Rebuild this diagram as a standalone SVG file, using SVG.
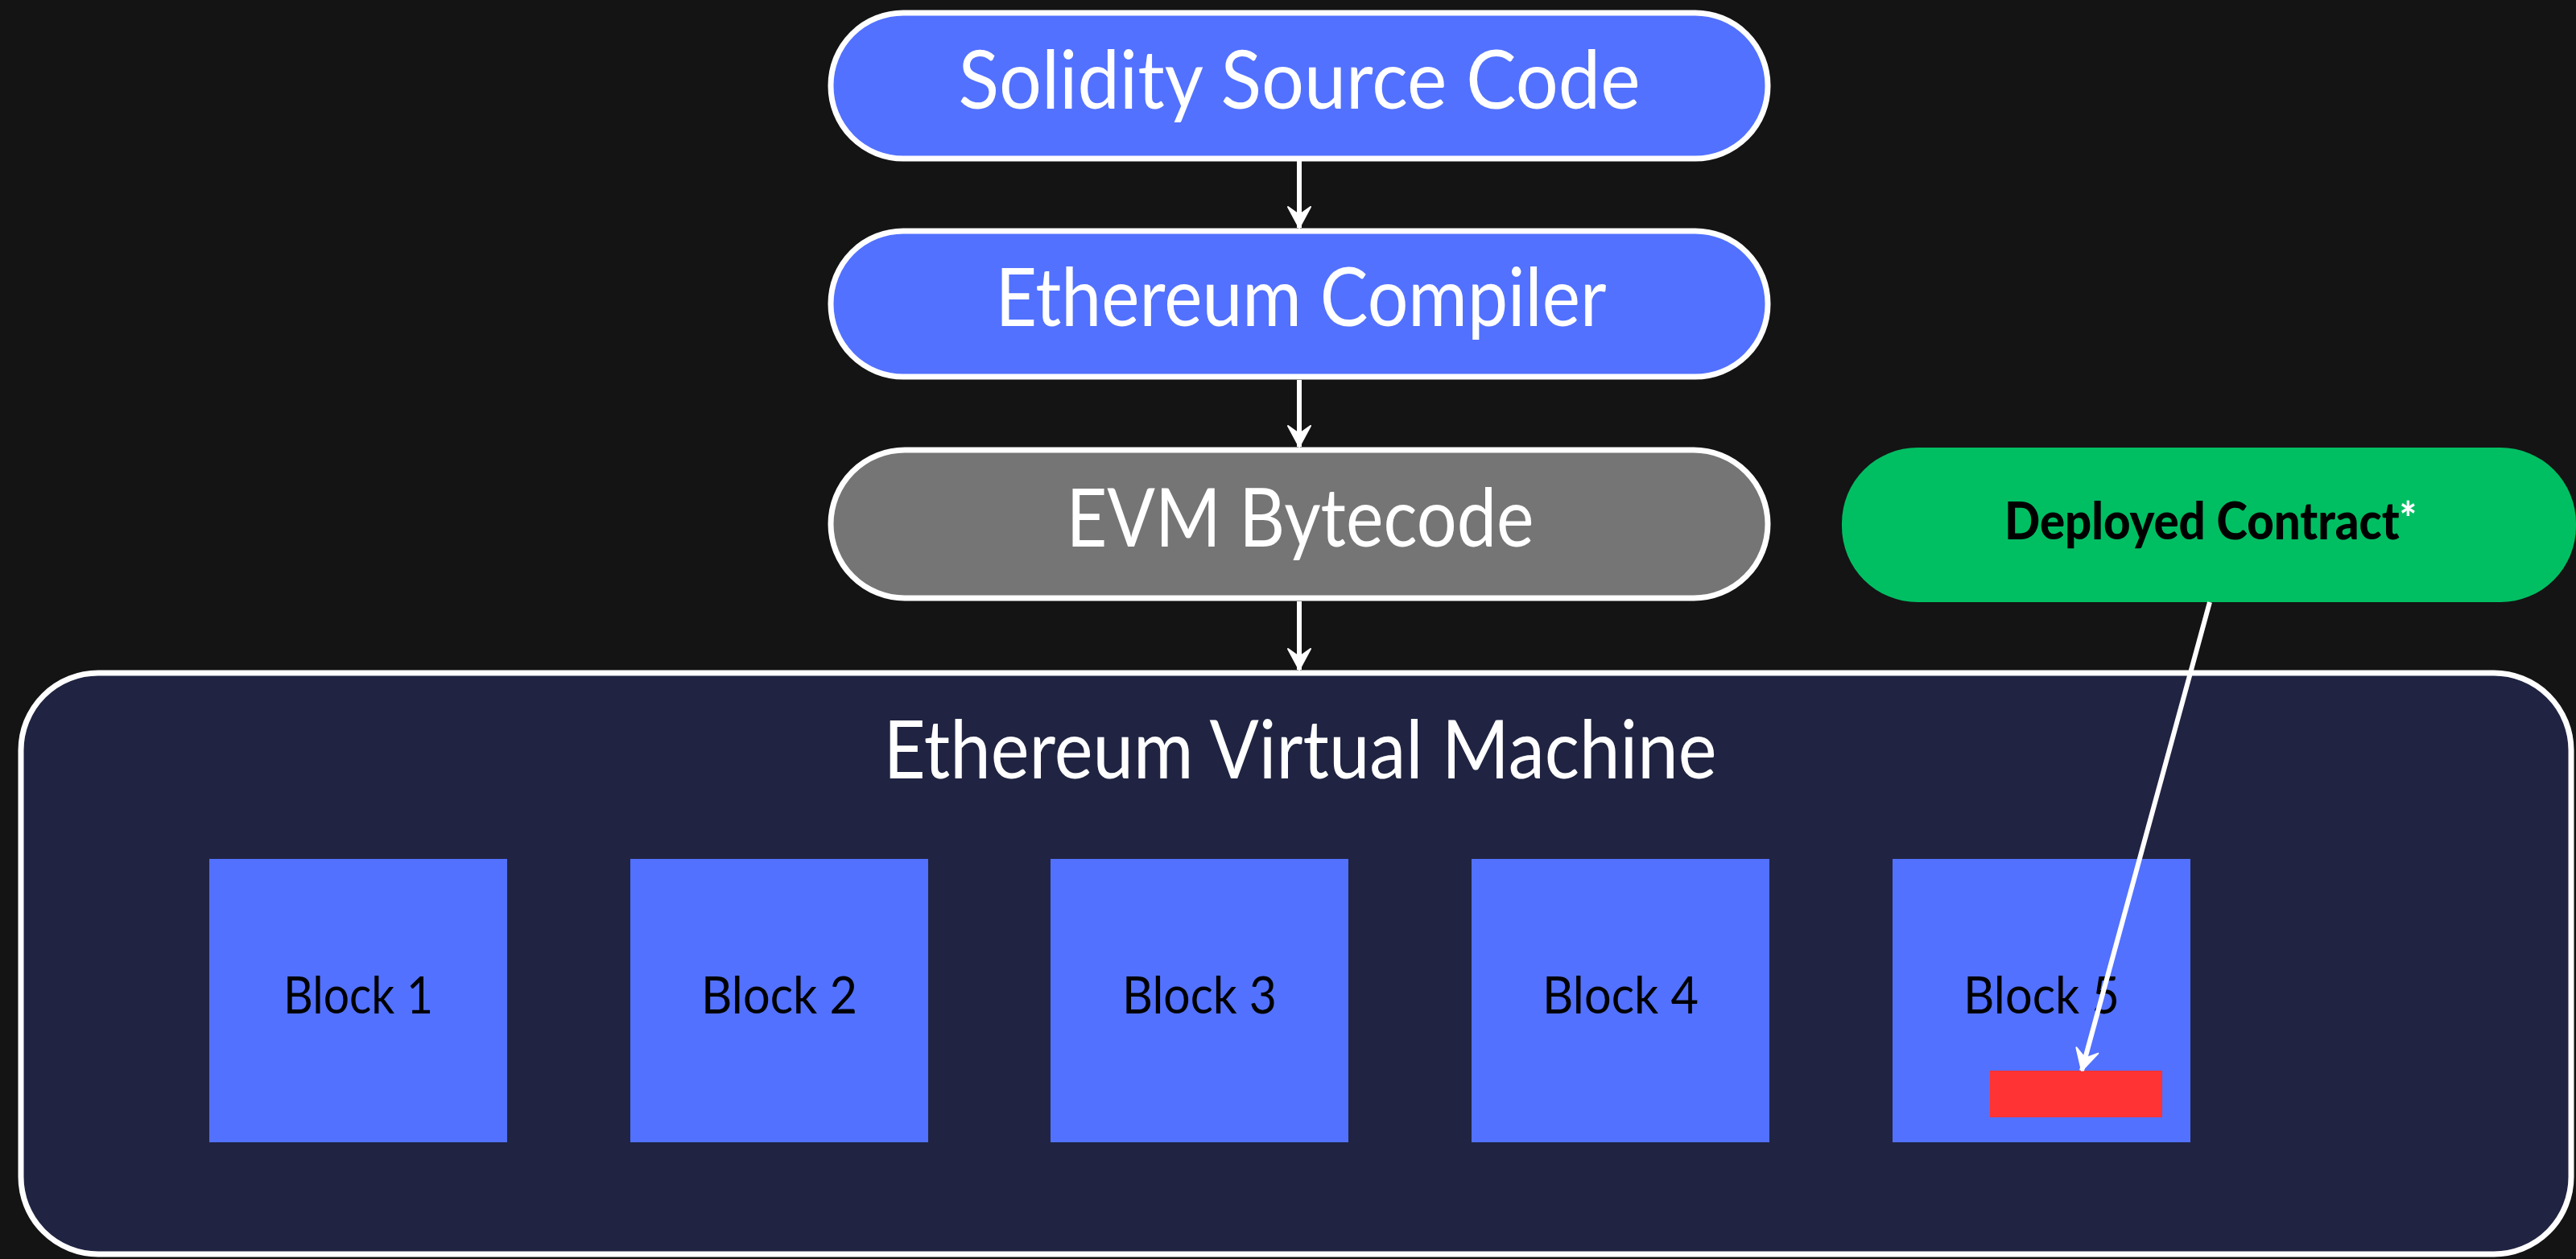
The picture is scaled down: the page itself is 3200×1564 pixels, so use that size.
<svg xmlns="http://www.w3.org/2000/svg" width="3200" height="1564" viewBox="0 0 3200 1564">
  <style>
    .pill { stroke: #ffffff; stroke-width: 7; }
    .blue { fill: #5271FF; }
    .big { font-family: Lato, "Liberation Sans", sans-serif; font-size: 100px; fill: #ffffff; text-anchor: middle; }
    .blk { font-family: Lato, "Liberation Sans", sans-serif; font-size: 64px; fill: #000000; text-anchor: middle; }
    .conn { stroke: #ffffff; stroke-width: 6; fill: none; marker-end: url(#arr); }
  </style>
  <defs>
    <marker id="arr" markerUnits="userSpaceOnUse" viewBox="-28 -16 30 32" markerWidth="30" markerHeight="32" refX="0" refY="0" orient="auto">
      <path d="M0,0 L-26,-14 L-16,0 L-26,14 Z" fill="#ffffff" stroke="#ffffff" stroke-width="2" stroke-linejoin="round"/>
    </marker>
  </defs>
  <rect x="0" y="0" width="3200" height="1564" fill="#141414"/>

  <g id="evm">
    <rect x="26" y="836" width="3168" height="722" rx="96" ry="96" fill="#202442" stroke="#ffffff" stroke-width="7"/>
    <text class="big" x="1615" y="967" textLength="1035" lengthAdjust="spacingAndGlyphs">Ethereum Virtual Machine</text>
  </g>

  <g id="block1">
    <rect class="blue" x="260" y="1067" width="370" height="352"/>
    <text class="blk" x="445" y="1259" textLength="186" lengthAdjust="spacingAndGlyphs">Block 1</text>
  </g>
  <g id="block2">
    <rect class="blue" x="783" y="1067" width="370" height="352"/>
    <text class="blk" x="968" y="1259" textLength="194" lengthAdjust="spacingAndGlyphs">Block 2</text>
  </g>
  <g id="block3">
    <rect class="blue" x="1305" y="1067" width="370" height="352"/>
    <text class="blk" x="1490" y="1259" textLength="192" lengthAdjust="spacingAndGlyphs">Block 3</text>
  </g>
  <g id="block4">
    <rect class="blue" x="1828" y="1067" width="370" height="352"/>
    <text class="blk" x="2013" y="1259" textLength="194" lengthAdjust="spacingAndGlyphs">Block 4</text>
  </g>
  <g id="block5">
    <rect class="blue" x="2351" y="1067" width="370" height="352"/>
    <text class="blk" x="2536" y="1259" textLength="194" lengthAdjust="spacingAndGlyphs">Block 5</text>
  </g>
  <g id="contract-slot">
    <rect x="2472" y="1330" width="214" height="58" fill="#FF3333"/>
  </g>

  <g id="source">
    <rect class="pill blue" x="1032" y="16" width="1164" height="181" rx="90" ry="90"/>
    <text class="big" x="1614" y="135" textLength="847" lengthAdjust="spacingAndGlyphs">Solidity Source Code</text>
  </g>
  <g id="compiler">
    <rect class="pill blue" x="1032" y="287" width="1164" height="181" rx="90" ry="90"/>
    <text class="big" x="1616" y="405" textLength="759" lengthAdjust="spacingAndGlyphs">Ethereum Compiler</text>
  </g>
  <g id="bytecode">
    <rect class="pill" x="1032" y="559" width="1164" height="184" rx="92" ry="92" fill="#757575"/>
    <text class="big" x="1615" y="679" textLength="581" lengthAdjust="spacingAndGlyphs">EVM Bytecode</text>
  </g>
  <g id="deployed">
    <rect x="2288" y="556" width="912" height="192" rx="94" ry="94" fill="#00BF63"/>
    <text x="2490" y="670" font-family="Lato, 'Liberation Sans', sans-serif" font-weight="900" font-size="65" fill="#000000" textLength="512" lengthAdjust="spacingAndGlyphs">Deployed Contract<tspan fill="#ffffff" font-size="56" dy="-6">*</tspan></text>
  </g>

  <g id="connectors">
    <line class="conn" x1="1614" y1="200" x2="1614" y2="283"/>
    <line class="conn" x1="1614" y1="472" x2="1614" y2="555"/>
    <line class="conn" x1="1614" y1="747" x2="1614" y2="832"/>
    <line class="conn" x1="2745" y1="748" x2="2586" y2="1330"/>
  </g>
</svg>
